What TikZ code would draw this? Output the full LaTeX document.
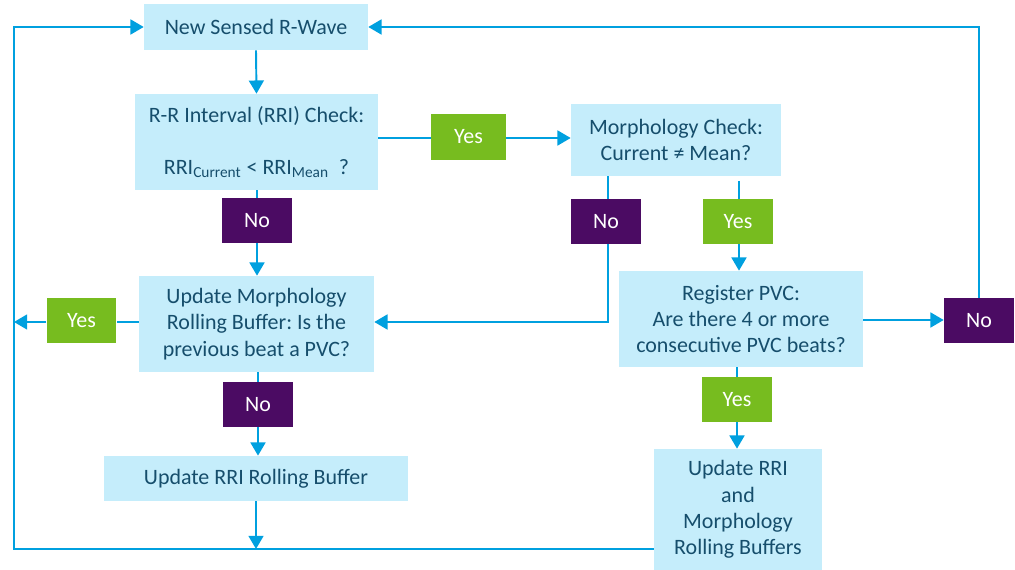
\documentclass[tikz,border=0pt]{standalone}
\usepackage{fontspec}
\setmainfont{Carlito}
\frenchspacing
\usetikzlibrary{arrows.meta,calc}
\definecolor{boxfill}{RGB}{197,237,251}
\definecolor{txt}{RGB}{22,78,108}
\definecolor{line}{RGB}{0,160,223}
\definecolor{ygreen}{RGB}{119,188,31}
\definecolor{npurple}{RGB}{75,11,99}
\tikzset{
  box/.style={fill=boxfill, text=txt, align=center, inner sep=2pt, font=\fontsize{12.5}{14.9}\selectfont},
  yeslab/.style={fill=ygreen, text=white, minimum width=1.4cm, minimum height=0.9cm, inner sep=0pt, font=\fontsize{12.5}{14.9}\selectfont},
  nolab/.style={fill=npurple, text=white, minimum width=1.4cm, minimum height=0.9cm, inner sep=0pt, font=\fontsize{12.5}{14.9}\selectfont},
  conn/.style={draw=line, line width=1.1pt},
  arr/.style={conn, -{Triangle[length=7.5pt,width=8.5pt]}}
}
\begin{document}
\begin{tikzpicture}[x=0.02cm,y=-0.02cm]
\useasboundingbox (0,0) rectangle (1015,570);
% boxes
\node[box, minimum width=4.48cm, minimum height=0.92cm] (nsr) at (256,27) {New Sensed R-Wave};
\node[box, minimum width=4.86cm, minimum height=1.92cm] (rri) at (256.5,142) {R-R Interval (RRI) Check:\\[14.6pt] RRI\textsubscript{Current} < RRI\textsubscript{Mean}\ \ ?};
\node[box, minimum width=4.2cm, minimum height=1.44cm] (morph) at (676,140) {Morphology Check:\\ Current ≠ Mean?};
\node[box, minimum width=4.7cm, minimum height=1.92cm] (upm) at (256.5,324) {Update Morphology\\ Rolling Buffer: Is the\\ previous beat a PVC?};
\node[box, minimum width=6.08cm, minimum height=0.9cm] (urb) at (256,478.5) {Update RRI Rolling Buffer};
\node[box, minimum width=4.88cm, minimum height=1.92cm] (reg) at (741,319) {Register PVC:\\ Are there 4 or more\\ consecutive PVC beats?};
\node[box, minimum width=3.36cm, minimum height=2.42cm] (urm) at (738,509.5) {Update RRI\\ and\\ Morphology\\ Rolling Buffers};
% labels
\node[yeslab, minimum width=1.5cm, minimum height=0.92cm] (yes1) at (468.5,137) {Yes};
\node[nolab] (no1) at (257,220.5) {No};
\node[nolab] (no2) at (606,221.5) {No};
\node[yeslab] (yes2) at (738,221.5) {Yes};
\node[yeslab] (yes3) at (81.5,320.5) {Yes};
\node[nolab] (no4) at (258,404.5) {No};
\node[yeslab] (yes4) at (737,399.5) {Yes};
\node[nolab] (no3) at (979,320.5) {No};
% coordinates
\coordinate (lt) at (14,27);
\coordinate (lb) at (14,549);
\coordinate (lm) at (14,322);
\coordinate (bm) at (256,549);
\coordinate (rt) at (979,27);
% connectors
\draw[arr] (nsr.south) -- (rri.north);
\draw[conn] (rri.east |- 0,138) -- (yes1.west |- 0,138);
\draw[arr] (yes1.east |- 0,138) -- (morph.west |- 0,138);
\draw[conn] (rri.south -| no1) -- (no1.north);
\draw[arr] (no1.south) -- (upm.north -| no1);
\draw[conn] (morph.south -| 608,0) -- (608,199);
\draw[arr] (608,244) -- (608,322) -- (upm.east |- 0,322);
\draw[conn] (739,181) -- (739,199);
\draw[arr] (739,244) -- (reg.north -| 739,0);
\draw[arr] (reg.east |- 0,320) -- (no3.west |- 0,320);
\draw[arr] (no3.north) -- (rt) -- (nsr.east);
\draw[conn] (upm.west |- 0,322) -- (yes3.east |- 0,322);
\draw[arr] (yes3.west |- 0,322) -- (lm);
\draw[arr] (urm.west |- lb) -- (lb) -- (lt) -- (nsr.west);
\draw[conn] (upm.south -| no4) -- (no4.north);
\draw[arr] (no4.south) -- (urb.north -| no4);
\draw[arr] (urb.south -| bm) -- (bm);
\draw[conn] (reg.south -| yes4) -- (yes4.north);
\draw[arr] (yes4.south) -- (urm.north -| yes4);
\end{tikzpicture}
\end{document}
